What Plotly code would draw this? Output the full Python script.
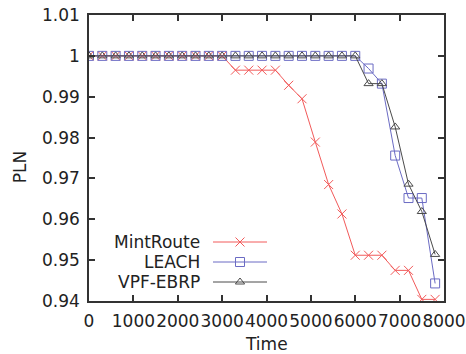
import plotly.graph_objects as go

time = [0, 300, 600, 900, 1200, 1500, 1800, 2100, 2400, 2700, 3000, 3300, 3600, 3900,
        4200, 4500, 4800, 5100, 5400, 5700, 6000, 6300, 6600, 6900, 7200, 7500, 7800]
mintroute = [1, 1, 1, 1, 1, 1, 1, 1, 1, 1, 1, 0.9965, 0.9965, 0.9965,
             0.9965, 0.9928, 0.9895, 0.9789, 0.9685, 0.9613, 0.9512, 0.9512, 0.9512,
             0.9475, 0.9475, 0.9404, 0.9404]
leach = [1, 1, 1, 1, 1, 1, 1, 1, 1, 1, 1, 1, 1, 1,
         1, 1, 1, 1, 1, 1, 1, 0.9969, 0.9932, 0.9756, 0.9652, 0.9652, 0.9443]
vpf = [1, 1, 1, 1, 1, 1, 1, 1, 1, 1, 1, 1, 1, 1,
       1, 1, 1, 1, 1, 1, 1, 0.9932, 0.9932, 0.9826, 0.9686, 0.9619, 0.9514]

series_names = ["MintRoute", "LEACH", "VPF-EBRP"]
series_data = [mintroute, leach, vpf]
colors = ["#f25a5a", "#6b6bc4", "#4a4a4a"]
symbols = ["x-thin-open", "square-open", "triangle-up-open"]
sizes = [9, 9, 8]

x_ticks = [0, 1000, 2000, 3000, 4000, 5000, 6000, 7000, 8000]
y_ticks = [0.94, 0.95, 0.96, 0.97, 0.98, 0.99, 1.0, 1.01]

FONT = "DejaVu Sans, sans-serif"
FS = 17
fig = go.Figure()

for name, ys, c, s, sz in zip(series_names, series_data, colors, symbols, sizes):
    fig.add_trace(go.Scatter(
        x=time, y=ys, mode="lines+markers", name=name,
        line=dict(color=c, width=1),
        marker=dict(symbol=s, size=sz, color=c, line=dict(color=c, width=1)),
        showlegend=False, cliponaxis=True))

# custom gnuplot-style legend (text right, sample on the right) on overlay pixel axes
leg_rows = [59, 39, 19]
for name, c, s, sz, ry in zip(series_names, colors, symbols, sizes, leg_rows):
    fig.add_trace(go.Scatter(
        x=[124, 151, 178], y=[ry, ry, ry], xaxis="x2", yaxis="y2",
        mode="lines", line=dict(color=c, width=1), showlegend=False, hoverinfo="skip"))
    fig.add_trace(go.Scatter(
        x=[151], y=[ry], xaxis="x2", yaxis="y2", mode="markers",
        marker=dict(symbol=s, size=sz, color=c, line=dict(color=c, width=1)),
        showlegend=False, hoverinfo="skip"))
    fig.add_annotation(x=113, y=ry, xref="x2", yref="y2", text=name,
                       xanchor="right", yanchor="middle", showarrow=False,
                       font=dict(family=FONT, size=FS, color="#222"))

axis_common = dict(
    showgrid=False, zeroline=False, showline=True, linecolor="#333", linewidth=1.5,
    mirror="ticks", ticks="inside", ticklen=6, tickwidth=1.5, tickcolor="#333",
    automargin=False, tickangle=0, ticklabeloverflow="allow",
    tickfont=dict(family=FONT, size=FS, color="#222"))

fig.update_layout(
    width=466, height=354,
    margin=dict(l=89, r=22, t=15, b=53, autoexpand=False),
    paper_bgcolor="white", plot_bgcolor="white",
    xaxis=dict(range=[0, 8000], tickvals=x_ticks, ticktext=[str(v) for v in x_ticks],
               ticklabelstandoff=4, **axis_common),
    yaxis=dict(range=[0.94, 1.01], tickvals=y_ticks,
               ticktext=["0.94", "0.95", "0.96", "0.97", "0.98", "0.99", "1", "1.01"],
               ticklabelstandoff=4, **axis_common),
    xaxis2=dict(range=[0, 355], overlaying="x", visible=False, fixedrange=True),
    yaxis2=dict(range=[0, 286], overlaying="y", visible=False, fixedrange=True),
    showlegend=False,
)

fig.add_annotation(x=0.5, y=-0.150, xref="paper", yref="paper", text="Time",
                   showarrow=False, xanchor="center", yanchor="middle",
                   font=dict(family=FONT, size=FS, color="#222"))
fig.add_annotation(x=-0.194, y=0.4685, xref="paper", yref="paper", text="PLN",
                   showarrow=False, xanchor="center", yanchor="middle", textangle=-90,
                   font=dict(family=FONT, size=FS, color="#222"))

fig.write_html("out.html", config={"displayModeBar": False},
               post_script="document.body.style.margin='0';document.body.style.overflow='hidden';")
